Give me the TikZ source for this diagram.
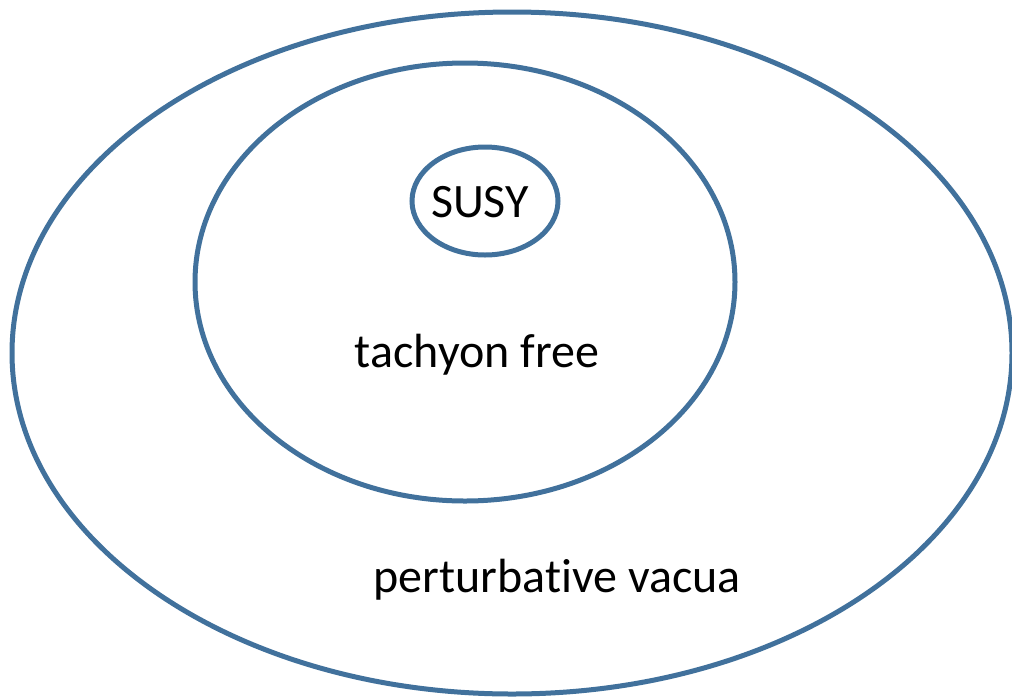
\documentclass[tikz,border=0pt]{standalone}
\usepackage{fontspec}
\setmainfont{Carlito}[Ligatures=NoCommon]
\tikzset{
  ring/.style={draw=ringblue, line width=5pt},
  lbl/.style={font=\fontsize{48}{56}\selectfont, text=black, inner sep=0pt}
}
\definecolor{ringblue}{HTML}{41719C}
\begin{document}
\begin{tikzpicture}[x=1pt,y=-1pt]
\useasboundingbox (0,0) rectangle (1012,697);
\draw[ring] (512,353) ellipse [x radius=500, y radius=341];
\draw[ring] (465,282) ellipse [x radius=270, y radius=219];
\draw[ring] (485,201) ellipse [x radius=73, y radius=54];
\node[lbl] (susy) at (480,202) {SUSY};
\node[lbl] (tach) at (477,355) {tachyon free};
\node[lbl] (pert) at (557,580) {perturbative vacua};
\end{tikzpicture}
\end{document}
